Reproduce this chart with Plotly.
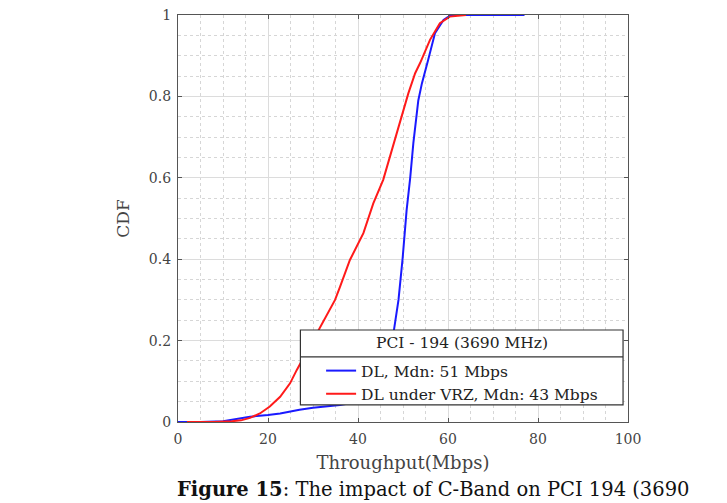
import plotly.graph_objects as go

# CDF of throughput, PCI 194 (3690 MHz)
dl_x = [0, 5, 10, 11.6, 16, 20, 22.7, 27, 30, 36, 37.6, 40, 43, 45, 46.5, 47.5, 48.1, 49,
        49.9, 50.8, 51.6, 52.3, 53.4, 54.2, 55.6, 57.1, 59, 60.4, 62, 77]
dl_cdf = [0, 0, 0.002, 0.005, 0.013, 0.017, 0.021, 0.03, 0.035, 0.042, 0.045, 0.055, 0.07, 0.10,
          0.14, 0.19, 0.23, 0.30, 0.40, 0.52, 0.60, 0.685, 0.79, 0.832, 0.89, 0.955, 0.988, 0.998, 1.0, 1.0]

vrz_x = [2, 8, 12, 14, 16, 18.2, 20.4, 22.7, 24.9, 26.4, 28.5, 31.4, 34.9, 36, 38.2, 41.2,
         43.4, 45.6, 47.1, 48.6, 50.1, 51.2, 52.7, 53.8, 56, 58.2, 60.4, 63.4, 64]
vrz_cdf = [0, 0, 0.002, 0.004, 0.01, 0.021, 0.038, 0.062, 0.095, 0.128, 0.17, 0.228, 0.30, 0.332,
           0.398, 0.464, 0.537, 0.595, 0.652, 0.709, 0.767, 0.808, 0.857, 0.882, 0.939, 0.98, 0.996, 1.0, 1.0]

series_names = ["DL, Mdn: 51 Mbps", "DL under VRZ, Mdn: 43 Mbps"]
legend_title = "PCI - 194 (3690 MHz)"
caption = "<b>Figure 15</b>: The impact of C-Band on PCI 194 (3690"

serif = "DejaVu Serif, serif"
frame = "#555555"
txt = "#444444"

fig = go.Figure()
fig.add_trace(go.Scatter(x=dl_x, y=dl_cdf, mode="lines", name=series_names[0],
                         line=dict(color="#1a1aff", width=2)))
fig.add_trace(go.Scatter(x=vrz_x, y=vrz_cdf, mode="lines", name=series_names[1],
                         line=dict(color="#ff1a1a", width=2)))

axis_common = dict(
    showline=True, linecolor=frame, linewidth=1.2, mirror="ticks",
    ticks="inside", ticklen=4, tickcolor=frame,
    showgrid=True, gridcolor="#dcdcdc", gridwidth=1,
    zeroline=False, automargin=False, ticklabeloverflow="allow",
    tickfont=dict(family=serif, size=14, color=txt),
)

fig.update_xaxes(range=[0, 100], dtick=20, tick0=0, ticklabelstandoff=4,
                 minor=dict(dtick=5, showgrid=True, gridcolor="#d6d6d6", griddash="dot", ticks=""),
                 title=dict(text="Throughput(Mbps)", standoff=10,
                            font=dict(family=serif, size=18, color=txt)),
                 **axis_common)
fig.update_yaxes(range=[0, 1], dtick=0.2, tick0=0, ticklabelstandoff=3,
                 minor=dict(dtick=0.05, showgrid=True, gridcolor="#d6d6d6", griddash="dot", ticks=""),
                 title=dict(text="CDF", standoff=14,
                            font=dict(family=serif, size=17, color=txt)),
                 **axis_common)

# legend box with title row and separator, drawn above the traces
fig.add_shape(type="rect", xref="paper", yref="paper", x0=0.272, x1=0.989, y0=0.042, y1=0.226,
              fillcolor="white", line=dict(color="#333333", width=1.2), layer="above")
fig.add_shape(type="line", xref="paper", yref="paper", x0=0.272, x1=0.989, y0=0.160, y1=0.160,
              line=dict(color="#333333", width=1.2), layer="above")
fig.add_annotation(text=legend_title, xref="paper", yref="paper", x=0.631, y=0.193,
                   xanchor="center", yanchor="middle", showarrow=False,
                   font=dict(family=serif, size=15.5, color="#222222"))

fig.add_annotation(text=caption, xref="paper", yref="paper", x=-0.007, y=-0.167,
                   xanchor="left", yanchor="middle", showarrow=False,
                   font=dict(family=serif, size=19.5, color="#111111"))

fig.update_layout(
    width=719, height=495,
    margin=dict(l=170, r=99, t=7, b=81),
    plot_bgcolor="white", paper_bgcolor="white",
    legend=dict(x=0.318, y=0.167, xanchor="left", yanchor="top",
                bgcolor="rgba(0,0,0,0)", borderwidth=0,
                font=dict(family=serif, size=15.5, color="#222222"),
                tracegroupgap=0),
)

fig.write_html("out.html")
